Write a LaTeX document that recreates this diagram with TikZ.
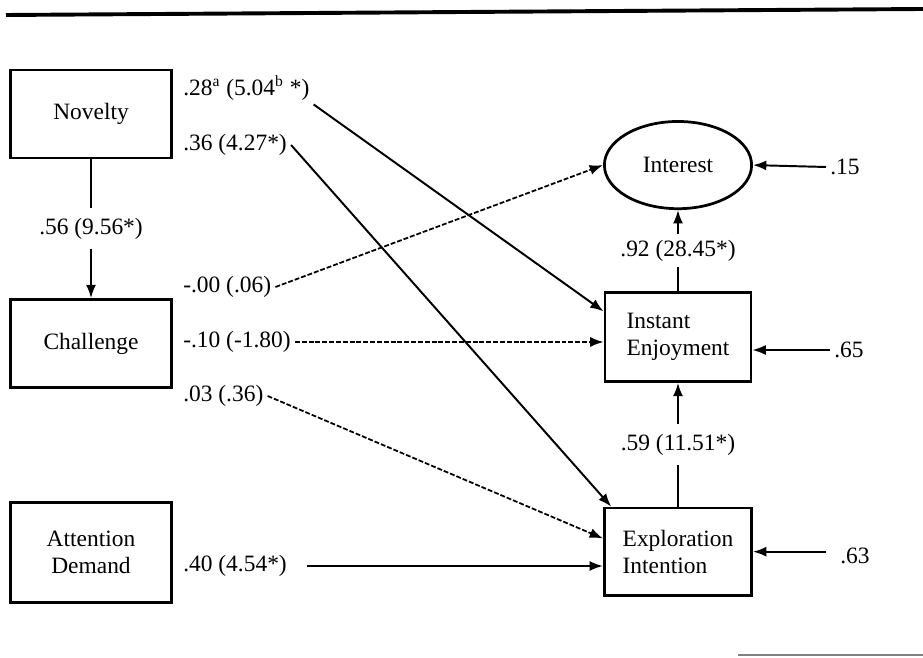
\documentclass[tikz,border=0pt]{standalone}
\usepackage{fontspec}
\setmainfont{Liberation Serif}
\usetikzlibrary{positioning, arrows.meta, shapes.geometric}

\begin{document}
\begin{tikzpicture}[
  x=0.18mm, y=-0.18mm,
  >={Latex[length=2.4mm,width=1.8mm]},
  font=\fontsize{12}{14}\selectfont,
  var/.style={draw, line width=1.4pt, align=center, minimum width=29mm, minimum height=15.8mm, inner sep=2pt},
  latent/.style={draw, ellipse, line width=1.4pt, minimum width=26.5mm, minimum height=15.7mm},
  coef/.style={anchor=west, inner sep=2pt},
  line/.style={->, line width=1pt},
  nsline/.style={->, line width=0.9pt, dash pattern=on 2.5pt off 1pt}
]

\useasboundingbox (0,0) rectangle (923,658);

% Frame rules
\draw[line width=2pt] (6,15) -- (923,9);
\draw[line width=1pt, gray] (738,655) -- (923,655);

% Exogenous variables (left column)
\node[var] (novelty) at (91,114) {Novelty};
\node[var, below=25mm of novelty] (challenge) {Challenge};
\node[var, below=20.2mm of challenge, minimum height=18mm] (attention) {Attention\\Demand};

% Endogenous variables (right column)
\node[var, minimum width=26.3mm, minimum height=16mm, align=left] (instant) at (678,337) {Instant\\Enjoyment};
\node[latent, above=14.6mm of instant] (interest) {Interest};
\node[var, minimum width=26.5mm, minimum height=15.7mm, align=left, below=22.3mm of instant] (explore) {Exploration\\Intention};

% Path coefficients
\node[coef] (c28) at (179,88) {.28\textsuperscript{a} (5.04\textsuperscript{b} *)};
\node[coef] (c36) at (179,145) {.36 (4.27*)};
\node[coef] (c00) at (179,287) {-.00 (.06)};
\node[coef] (c10) at (179,342) {-.10 (-1.80)};
\node[coef] (c03) at (179,396) {.03 (.36)};
\node[coef] (c40) at (179,566) {.40 (4.54*)};

% Error terms
\node[coef] (e15) at (826,167) {.15};
\node[coef] (e65) at (830,350) {.65};
\node[coef] (e63) at (836,556) {.63};

% Paths
\draw[line] (novelty) -- node[fill=white, inner ysep=5pt] {.56 (9.56*)} (challenge);
\draw[line] (c28.south east) -- (instant.161);
\draw[line] (c36.east) -- (explore.146);
\draw[nsline] (c00.east) -- (interest.west);
\draw[nsline] (c10.east) -- (c10.east -| instant.west);
\draw[nsline] (c03.east) -- (explore.170);
\draw[line, shorten <=8pt] (c40.east) -- (c40.east -| explore.west);

\draw[line] (instant) -- node[fill=white, inner ysep=3pt] {.92 (28.45*)} (interest);
\draw[line] (explore) -- node[fill=white, inner ysep=5pt] {.59 (11.51*)} (instant);

% Disturbances
\draw[line] (e15.west) -- (interest.east);
\draw[line] (e65.west) -- (e65.west -| instant.east);
\draw[line, shorten <=5pt] (e63.west |- explore.east) -- (explore.east);

\end{tikzpicture}
\end{document}
